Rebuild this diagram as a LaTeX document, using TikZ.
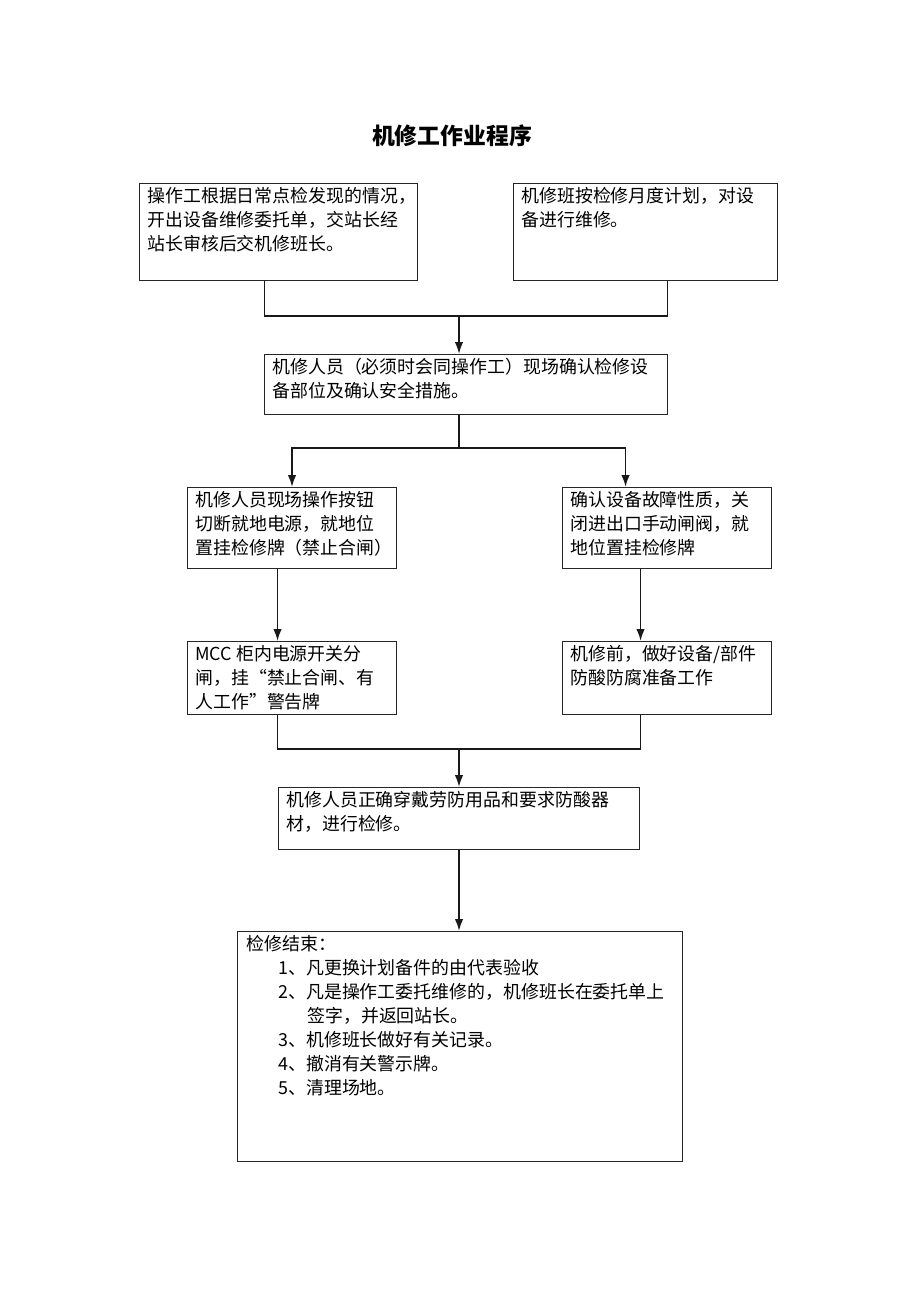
\documentclass[tikz,border=0pt]{standalone}
\usepackage{fontspec}
\newfontfamily\cjk{Noto Sans CJK SC}
\usetikzlibrary{arrows.meta}

\begin{document}
\begin{tikzpicture}[x={(0.02cm,0cm)},y={(0cm,-0.02cm)},
  box/.style 2 args={draw=black!85,line width=0.6pt,anchor=north west,inner sep=0pt,
    minimum width=#1*0.02cm,minimum height=#2*0.02cm},
  txt/.style={anchor=north west,align=left,inner sep=0pt,
    font=\cjk\fontsize{10.2}{13.66}\selectfont},
  link/.style={line width=1pt,black!90},
  >={Latex[length=2.4mm,width=1.7mm]}]
\useasboundingbox (0,0) rectangle (920,1302);
\node[font=\cjk\bfseries\fontsize{13}{16}\selectfont] (title) at (452,136) {机修工作业程序};
% boxes
\node[box={278}{97}] (ka) at (139,183) {};
\node[box={264}{97}] (kb) at (513,183) {};
\node[box={403}{60}] (kc) at (264,354) {};
\node[box={209}{81}] (kd) at (187,487) {};
\node[box={209}{81}] (ke) at (562,487) {};
\node[box={209}{73}] (kf) at (187,641) {};
\node[box={209}{73}] (kg) at (562,641) {};
\node[box={361}{62}] (kh) at (278,787) {};
\node[box={445}{230}] (ki) at (237,931) {};
% texts
\node[txt] (ta) at ([shift={(8,4)}]ka.north west) {操作工根据日常点检发现的情况，\\开出设备维修委托单，交站长经\\站长审核后交机修班长。};
\node[txt] (tb) at ([shift={(8,4)}]kb.north west) {机修班按检修月度计划，对设\\备进行维修。};
\node[txt] (tc) at ([shift={(8,4)}]kc.north west) {机修人员（必须时会同操作工）现场确认检修设\\备部位及确认安全措施。};
\node[txt] (td) at ([shift={(8,4)}]kd.north west) {机修人员现场操作按钮\\切断就地电源，就地位\\置挂检修牌（禁止合闸）};
\node[txt] (te) at ([shift={(8,4)}]ke.north west) {确认设备故障性质，关\\闭进出口手动闸阀，就\\地位置挂检修牌};
\node[txt] (tf) at ([shift={(8,4)}]kf.north west) {MCC 柜内电源开关分\\闸，挂“禁止合闸、有\\人工作”警告牌};
\node[txt] (tg) at ([shift={(8,4)}]kg.north west) {机修前，做好设备/部件\\防酸防腐准备工作};
\node[txt] (th) at ([shift={(8,4)}]kh.north west) {机修人员正确穿戴劳防用品和要求防酸器\\材，进行检修。};
\node[txt] (ti) at ([shift={(9,4)}]ki.north west) {检修结束：\\
  \hspace*{0.64cm}1、凡更换计划备件的由代表验收\\
  \hspace*{0.64cm}2、凡是操作工委托维修的，机修班长在委托单上\\
  \hspace*{1.22cm}签字，并返回站长。\\
  \hspace*{0.64cm}3、机修班长做好有关记录。\\
  \hspace*{0.64cm}4、撤消有关警示牌。\\
  \hspace*{0.64cm}5、清理场地。};
% connectors
\coordinate (j1) at (459,316);
\coordinate (j2) at (459,448);
\coordinate (j3) at (459,749);
\draw[link] ([xshift=-0.28cm]ka.south) |- (j1) -| ([xshift=0.44cm]kb.south);
\draw[link,->] (j1) -- (j1 |- kc.north);
\draw[link] (j2 |- kc.south) -- (j2);
\draw[link,->] (j2) -| (kd.north);
\draw[link,->] (j2) -| ([xshift=-0.83cm]ke.north);
\draw[link,->] ([xshift=-0.29cm]kd.south) -- ([xshift=-0.29cm]kf.north);
\draw[link,->] ([xshift=-0.53cm]ke.south) -- ([xshift=-0.53cm]kg.north);
\draw[link] ([xshift=-0.29cm]kf.south) |- (j3) -| ([xshift=-0.53cm]kg.south);
\draw[link,->] (j3) -- (j3 |- kh.north);
\draw[link,->] (kh.south) -- (kh.south |- ki.north);
\end{tikzpicture}
\end{document}
